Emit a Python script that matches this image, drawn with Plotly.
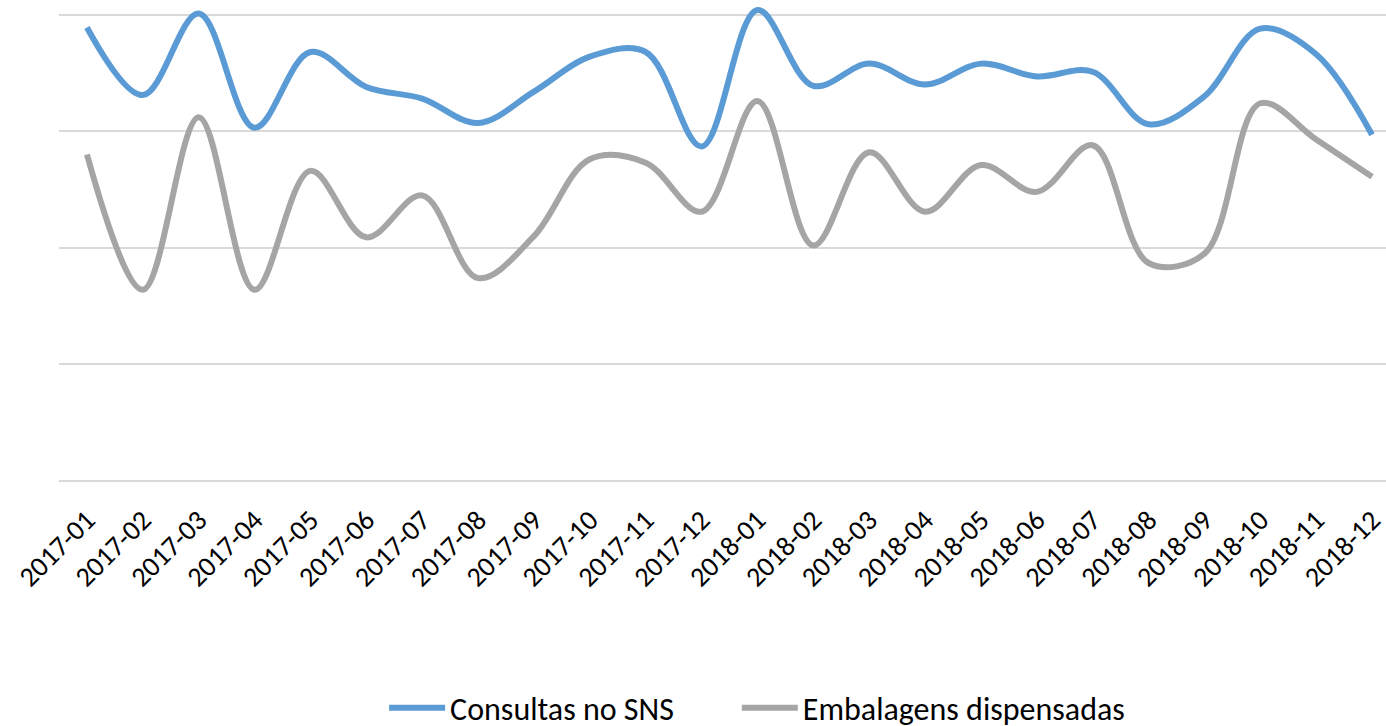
import plotly.graph_objects as go

months = ["2017-01","2017-02","2017-03","2017-04","2017-05","2017-06","2017-07","2017-08",
          "2017-09","2017-10","2017-11","2017-12","2018-01","2018-02","2018-03","2018-04",
          "2018-05","2018-06","2018-07","2018-08","2018-09","2018-10","2018-11","2018-12"]

consultas = [3.89, 3.31, 4.01, 3.03, 3.68, 3.38, 3.28, 3.07, 3.34, 3.64, 3.68, 2.87,
             4.04, 3.39, 3.58, 3.40, 3.58, 3.47, 3.51, 3.06, 3.30, 3.88, 3.66, 2.97]

embalagens = [2.80, 1.64, 3.12, 1.64, 2.66, 2.09, 2.45, 1.74, 2.10, 2.76, 2.73, 2.31,
              3.26, 2.02, 2.82, 2.31, 2.71, 2.48, 2.88, 1.87, 1.95, 3.24, 2.93, 2.61]

series_names = ["Consultas no SNS", "Embalagens dispensadas"]

FONT = "Carlito, Calibri, 'Liberation Sans Narrow', 'Open Sans', sans-serif"
GAP = "\u00a0" * 8

fig = go.Figure()
fig.add_trace(go.Scatter(x=months, y=consultas, mode="lines", name=series_names[0] + GAP,
                         line=dict(color="#5B9BD5", width=6, shape="spline", smoothing=1.0)))
fig.add_trace(go.Scatter(x=months, y=embalagens, mode="lines", name=series_names[1],
                         line=dict(color="#A5A5A5", width=6, shape="spline", smoothing=1.0)))

fig.update_layout(
    width=1386, height=726,
    margin=dict(l=59, r=0, t=3, b=245, autoexpand=False),
    paper_bgcolor="white", plot_bgcolor="white",
    font=dict(family=FONT, size=28, color="#000000"),
    showlegend=True,
    legend=dict(orientation="h", x=0.245, xanchor="left", xref="paper",
                y=-0.475, yanchor="middle", font=dict(size=32), itemwidth=56,
                traceorder="normal"),
    xaxis=dict(type="category", range=[-0.5, 23.25], tickangle=-45, automargin=False,
               showgrid=False, showline=False, ticks="", ticklabelstandoff=16,
               tickfont=dict(size=28)),
    yaxis=dict(range=[0, 4.1], dtick=1, tick0=0, showticklabels=False, automargin=False,
               showgrid=True, gridcolor="#D9D9D9", gridwidth=2,
               zeroline=True, zerolinecolor="#D9D9D9", zerolinewidth=2,
               showline=False, ticks=""),
)

fig.write_html("out.html", config={"displayModeBar": False},
               post_script="document.body.style.margin='0';document.body.style.overflow='hidden';")
